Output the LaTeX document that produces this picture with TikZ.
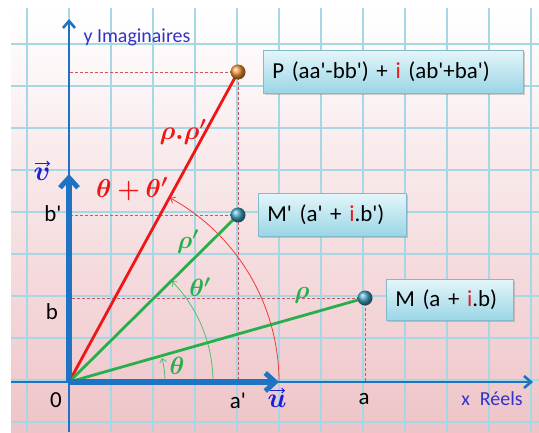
\documentclass[tikz,border=0pt]{standalone}
\usepackage{fix-cm}
\usepackage{fontspec}
\defaultfontfeatures[\rmfamily]{}
\setmainfont{Carlito}
\usepackage{bm}
\usetikzlibrary{arrows.meta,shadows}
\definecolor{axisblue}{RGB}{30,115,195}
\definecolor{bgpink}{RGB}{238,196,200}
\definecolor{gridc}{RGB}{165,215,228}
\definecolor{redl}{RGB}{238,22,22}
\definecolor{greenl}{RGB}{40,175,75}
\definecolor{dashc}{RGB}{205,85,95}
\definecolor{txtblue}{RGB}{50,50,200}
\definecolor{vecblue}{RGB}{30,30,215}
\definecolor{boxtop}{RGB}{228,246,250}
\definecolor{boxbot}{RGB}{155,214,230}
\definecolor{boxedge}{RGB}{130,185,205}
\definecolor{ballorange}{RGB}{240,145,50}
\definecolor{ballteal}{RGB}{60,160,190}
\begin{document}
\begin{tikzpicture}[x=1bp,y=1bp,
  gridline/.style={draw=gridc, line width=1.2bp},
  axisline/.style={draw=axisblue, line width=2.6bp, -{Straight Barb[length=7bp,width=12bp,line width=2.6bp]}},
  unitvec/.style={draw=axisblue, line width=5.5bp, -{Straight Barb[length=10bp,width=18bp,line width=5bp]}},
  dashline/.style={draw=dashc, line width=0.9bp, dash pattern=on 3bp off 2bp},
  redline/.style={draw=redl, line width=2.8bp},
  greenline/.style={draw=greenl, line width=2.8bp},
  redarc/.style={draw=redl!85, line width=0.8bp, -{Straight Barb[length=4bp,width=7bp]}},
  greenarc/.style={draw=greenl!80, line width=0.8bp, -{Straight Barb[length=4bp,width=7bp]}},
  vecbar/.style={draw=vecblue, line width=1bp, -{Straight Barb[length=2.5bp,width=5bp]}},
  ball/.style={circle, minimum size=15bp, inner sep=0pt, shading=ball},
  infobox/.style={draw=boxedge, line width=0.6bp, top color=boxtop, bottom color=boxbot,
    drop shadow={opacity=0.35, shadow xshift=2bp, shadow yshift=-2bp},
    minimum height=43bp, inner xsep=9bp, align=left, anchor=west,
    font=\fontsize{23}{27}\selectfont},
  axlabel/.style={font=\fontsize{23}{27}\selectfont, text=black},
  axname/.style={font=\fontsize{20}{24}\selectfont, text=txtblue},
  redmath/.style={text=redl, font=\fontsize{26}{30}\selectfont},
  greenmath/.style={text=greenl, font=\fontsize{25}{29}\selectfont},
  vecmath/.style={text=vecblue, font=\fontsize{28}{32}\selectfont, inner sep=1bp}
]
\useasboundingbox (0,0) rectangle (539,432);
\fill[white] (0,0) rectangle (539,432);
\shade[top color=white, bottom color=bgpink] (11,0) rectangle (539,424);
% grid
\foreach \x in {27,69,...,531} \draw[gridline] (\x,0) -- (\x,424);
\foreach \y in {10,52,...,388} \draw[gridline] (11,\y) -- (539,\y);
% key points
\coordinate (O) at (69,50);
\coordinate (xs) at (11,50);
\coordinate (xe) at (533,50);
\coordinate (ys) at (69,0);
\coordinate (ye) at (69,413);
\coordinate (ue) at (279,50);
\coordinate (ve) at (69,258);
\coordinate (P) at (238,360);
\coordinate (Mp) at (238,217);
\coordinate (M) at (365,134);
% dashed projections
\draw[dashline] (P) -- (P -| O);
\draw[dashline] (P) -- (P |- O);
\draw[dashline] (Mp) -- (Mp -| O);
\draw[dashline] (M) -- (M -| O);
\draw[dashline] (M) -- (M |- O);
% axes
\draw[axisline] (xs) -- (xe);
\draw[axisline] (ys) -- (ye);
% arcs
\draw[redarc] ([shift={(0:210)}]O) arc[start angle=0, end angle=61.2, radius=210];
\draw[greenarc] ([shift={(0:144)}]O) arc[start angle=0, end angle=44.5, radius=144];
\draw[greenarc] ([shift={(2:96)}]O) arc[start angle=2, end angle=14.5, radius=96];
% vectors
\draw[redline] (O) -- (P);
\draw[greenline] (O) -- (Mp);
\draw[greenline] (O) -- (M);
\draw[unitvec] (O) -- (ue);
\draw[unitvec] (O) -- (ve);
% balls
\node[ball, ball color=ballorange] (Pb) at (P) {};
\node[ball, ball color=ballteal] (Mpb) at (Mp) {};
\node[ball, ball color=ballteal] (Mb) at (M) {};
% boxes
\node[infobox, minimum width=260bp, text width=242bp] (Pbox) at (263,360.5) {P (aa'-bb') + \textcolor{redl}{i} (ab'+ba')};
\node[infobox, minimum width=148bp, text width=130bp] (Mpbox) at (258,217.5) {M' (a' + \textcolor{redl}{i}.b')};
\node[infobox, minimum width=127bp, text width=109bp, minimum height=41bp] (Mbox) at (386,132.5) {M (a + \textcolor{redl}{i}.b)};
% axis labels
\node[axname, anchor=west] (yname) at (80,395) {y Imaginaires};
\node[axname] (xname) at (492,33) {x\enspace Réels};
\node[axlabel] (l0) at (56,32) {0};
\node[axlabel] (la1) at (238,31) {a'};
\node[axlabel] (la) at (364,33) {a};
\node[axlabel] (lb) at (52,120) {b};
\node[axlabel] (lb1) at (53,218) {b'};
\node[vecmath] (lu) at (277,31) {$\bm{u}$};
\node[vecmath] (lv) at (42,258) {$\bm{v}$};
\draw[vecbar] ([xshift=-7bp,yshift=3bp]lu.north) -- ([xshift=8bp,yshift=3bp]lu.north);
\draw[vecbar] ([xshift=-7bp,yshift=3bp]lv.north) -- ([xshift=8bp,yshift=3bp]lv.north);
% greek labels
\node[redmath] (rr) at (183,300) {$\bm{\rho.\rho'}$};
\node[redmath] (tt) at (132,243) {$\bm{\theta+\theta'}$};
\node[greenmath] (r1) at (188,190) {$\bm{\rho'}$};
\node[greenmath] (t1) at (200,145) {$\bm{\theta'}$};
\node[greenmath] (t0) at (177,66) {$\bm{\theta}$};
\node[greenmath] (r0) at (302,137) {$\bm{\rho}$};
\end{tikzpicture}
\end{document}
